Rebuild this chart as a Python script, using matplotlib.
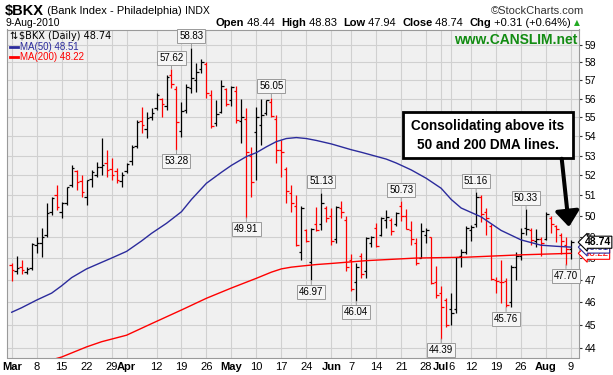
import matplotlib
matplotlib.use('Agg')
import matplotlib.pyplot as plt
from matplotlib.patches import Rectangle
from matplotlib.lines import Line2D
from matplotlib.ticker import FixedLocator, NullLocator, NullFormatter
import numpy as np
import pandas as pd

plt.rcParams['font.family'] = ['Liberation Sans', 'DejaVu Sans']

# ---- trading days Mar 1 .. Aug 9 2010 (market holidays removed)
holidays = ['2010-04-02', '2010-05-31', '2010-07-05']
dates = [d for d in pd.bdate_range('2010-03-01', '2010-08-09')
         if d.strftime('%Y-%m-%d') not in holidays]

# ---- daily OHLC
opens = [47.70, 47.40, 47.60, 47.35, 47.55, 48.60, 48.70, 49.10, 50.20, 51.00,
         50.20, 50.60, 51.50, 52.20, 51.70, 50.90, 51.80, 52.00, 52.40, 52.60,
         52.30, 52.20, 51.70, 52.20, 52.70, 53.50, 54.80, 54.40, 55.00, 55.50,
         56.00, 55.60, 57.30, 56.50, 54.30, 55.40, 56.60, 57.00, 57.60, 57.90,
         56.20, 54.70, 55.30, 56.50, 55.90, 56.40, 54.80, 54.90, 53.00, 54.20,
         54.60, 55.20, 55.80, 54.90, 53.30, 52.30, 51.10, 50.50, 48.30, 49.30,
         47.80, 49.60, 49.60, 50.40, 50.00, 48.90, 50.40, 49.80, 47.90, 46.90,
         48.10, 47.40, 48.70, 49.40, 49.10, 49.80, 49.80, 49.60, 50.50, 50.00,
         49.30, 48.70, 48.00, 49.10, 49.00, 46.90, 46.40, 46.10, 45.70, 45.70,
         48.10, 48.30, 49.30, 49.60, 50.90, 50.20, 49.50, 47.00, 46.90, 46.95,
         46.00, 47.60, 48.10, 49.40, 49.30, 48.80, 48.90, 48.90, 49.90, 49.50,
         49.10, 48.60, 48.44]
highs = [47.78, 48.10, 47.92, 47.60, 48.70, 49.00, 49.42, 50.63, 50.92, 51.50,
         50.68, 51.40, 52.50, 52.27, 52.00, 51.77, 52.27, 52.67, 53.90, 53.30,
         52.90, 52.37, 52.17, 52.62, 53.55, 54.85, 55.55, 55.30, 55.50, 56.30,
         56.05, 57.30, 57.62, 56.70, 55.80, 56.80, 58.83, 57.95, 58.20, 58.00,
         56.45, 55.90, 57.00, 56.60, 56.70, 56.70, 56.00, 55.50, 53.45, 55.55,
         56.00, 55.95, 56.05, 55.10, 53.80, 52.40, 51.50, 51.00, 50.50, 49.35,
         49.40, 50.45, 51.13, 50.50, 50.40, 50.50, 50.70, 50.00, 48.20, 47.75,
         48.25, 49.00, 49.05, 49.65, 49.95, 50.30, 49.90, 50.20, 50.73, 50.35,
         49.75, 48.95, 49.65, 49.40, 49.00, 47.65, 46.70, 46.20, 46.40, 48.05,
         48.40, 49.50, 49.55, 51.16, 51.00, 50.40, 49.60, 47.15, 47.90, 47.10,
         47.70, 48.30, 49.40, 50.33, 49.40, 49.35, 49.00, 50.20, 50.00, 49.55,
         49.20, 49.00, 48.83]
lows = [46.94, 47.27, 47.27, 47.27, 47.45, 48.24, 48.05, 49.00, 50.04, 50.28,
        49.90, 50.53, 51.40, 51.27, 50.92, 50.53, 51.40, 51.90, 52.00, 51.93,
        51.78, 51.63, 51.40, 52.10, 52.52, 53.40, 54.15, 53.90, 54.85, 55.40,
        55.00, 55.40, 56.60, 53.28, 53.95, 55.25, 56.30, 56.35, 57.40, 56.05,
        54.45, 54.55, 55.20, 55.60, 55.60, 54.70, 53.65, 49.91, 50.90, 51.75,
        53.55, 55.10, 55.00, 52.60, 51.90, 50.60, 50.20, 48.55, 47.90, 48.75,
        46.97, 49.25, 49.30, 49.70, 48.60, 48.70, 49.90, 47.40, 46.50, 46.04,
        47.10, 47.10, 48.50, 48.50, 49.05, 49.40, 49.10, 49.50, 49.75, 49.35,
        48.60, 47.70, 48.00, 48.70, 46.80, 46.20, 44.39, 44.90, 45.00, 45.50,
        47.60, 48.20, 48.80, 49.45, 49.70, 49.10, 47.00, 46.40, 45.95, 45.76,
        45.80, 47.00, 47.90, 49.10, 48.60, 48.50, 48.10, 48.85, 49.20, 48.75,
        48.20, 47.70, 47.94]
closes = [47.44, 47.54, 47.45, 47.50, 48.68, 48.72, 49.00, 50.14, 50.85, 50.43,
          50.63, 51.40, 52.37, 51.66, 51.17, 51.77, 52.17, 52.42, 52.52, 52.27,
          52.02, 51.78, 52.02, 52.57, 53.45, 54.75, 54.60, 54.95, 55.25, 56.20,
          55.70, 57.20, 56.80, 54.75, 55.35, 56.65, 57.15, 57.45, 58.00, 56.30,
          54.55, 55.15, 56.70, 55.70, 56.65, 54.85, 55.00, 53.20, 51.65, 55.00,
          55.10, 55.90, 55.05, 53.30, 53.20, 51.20, 50.60, 48.60, 50.40, 48.80,
          49.35, 49.30, 50.60, 49.90, 48.80, 50.45, 50.20, 47.60, 46.60, 47.60,
          47.25, 48.95, 49.00, 48.55, 49.90, 49.95, 49.25, 50.15, 49.97, 49.38,
          48.90, 47.75, 49.25, 49.30, 46.85, 46.30, 45.80, 45.00, 45.50, 48.05,
          48.30, 49.40, 49.45, 50.90, 50.10, 49.90, 47.05, 46.95, 46.90, 45.85,
          47.60, 48.10, 49.20, 49.35, 48.85, 48.90, 48.70, 50.10, 49.60, 49.35,
          48.80, 48.43, 48.74]

# ---- moving averages (bar number, value)
ma50_bar = [0, 2, 5, 8, 10, 12, 15, 18, 20, 23, 26, 28, 31, 34, 36, 39, 42, 44,
            47, 49, 51, 53, 55, 57, 59, 61, 64, 66, 68, 70, 72, 75, 77, 80, 83,
            86, 88, 90, 94, 98, 102, 106, 109, 112]
ma50_val = [45.55, 45.75, 46.09, 46.40, 46.73, 47.10, 47.50, 47.80, 48.00, 48.31,
            48.80, 49.16, 49.64, 50.20, 50.80, 51.60, 52.15, 52.50, 52.95, 53.15,
            53.45, 53.72, 53.88, 53.93, 53.88, 53.78, 53.60, 53.45, 53.30, 53.17,
            53.03, 52.82, 52.62, 52.27, 51.85, 51.35, 50.80, 50.38, 49.95, 49.30,
            48.85, 48.60, 48.55, 48.51]
ma200_bar = [8, 10, 15, 18, 23, 28, 34, 39, 44, 49, 52, 54, 56, 58, 61, 64, 71,
             81, 91, 102, 112]
ma200_val = [43.50, 43.62, 44.05, 44.27, 44.55, 45.05, 45.65, 46.17, 46.63, 47.07,
             47.35, 47.50, 47.58, 47.63, 47.70, 47.75, 47.88, 48.00, 48.04, 48.15,
             48.22]

hi_label_bars = [32, 36, 52, 62, 78, 93, 103]
lo_label_bars = [33, 47, 60, 69, 86, 99, 111]

tick_dates = ['2010-03-01', '2010-03-08', '2010-03-15', '2010-03-22', '2010-03-29',
              '2010-04-01', '2010-04-12', '2010-04-19', '2010-04-26', '2010-05-03',
              '2010-05-10', '2010-05-17', '2010-05-24', '2010-06-01', '2010-06-07',
              '2010-06-14', '2010-06-21', '2010-06-28', '2010-07-01', '2010-07-06',
              '2010-07-12', '2010-07-19', '2010-07-26', '2010-08-02', '2010-08-09']
tick_labels = ['Mar', '8', '15', '22', '29', 'Apr', '12', '19', '26', 'May', '10',
               '17', '24', 'Jun', '7', '14', '21', '28', 'Jul', '6', '12', '19',
               '26', 'Aug', '9']

y_ticks = list(range(44, 60))

W, H = 613, 375
RED = '#ff0000'
BLUE = '#2b2b9c'

fig = plt.figure(figsize=(W / 100, H / 100), dpi=100)
fig.patch.set_facecolor('white')
ax = fig.add_axes([6.7 / W, 1 - 357.5 / H, (579 - 6.7) / W, (357.5 - 29.5) / H])
ax.set_facecolor('#f0f0f0')

x = np.arange(len(dates))
prev = [opens[0]] + closes[:-1]
cols = [RED if c < p else 'black' for c, p in zip(closes, prev)]

ax.vlines(x, lows, highs, colors=cols, lw=0.9, zorder=3)
ax.hlines(opens, x - 0.5, x, colors=cols, lw=0.9, zorder=3)
ax.hlines(closes, x, x + 0.5, colors=cols, lw=0.9, zorder=3)

ax.plot(ma50_bar, ma50_val, color=BLUE, lw=1.0, zorder=4)
ax.plot(ma200_bar, ma200_val, color=RED, lw=1.0, zorder=4)

ax.set_yscale('log')
ax.set_ylim(43.60, 59.87)
ax.set_xlim(-1.0, 113.6)
ax.yaxis.set_major_locator(FixedLocator(y_ticks))
ax.yaxis.set_minor_locator(NullLocator())
ax.yaxis.set_minor_formatter(NullFormatter())
ax.set_yticklabels([str(v) for v in y_ticks])
ax.yaxis.tick_right()
ax.tick_params(axis='y', length=2, pad=2, labelsize=7.5, colors='#333333', labelcolor='black')

pos = {d.strftime('%Y-%m-%d'): i for i, d in enumerate(dates)}
ax.set_xticks([pos[d] for d in tick_dates])
ax.set_xticklabels(tick_labels)
ax.tick_params(axis='x', length=0, pad=3, labelsize=8)
for lab in ax.get_xticklabels():
    if lab.get_text().isalpha():
        lab.set_fontweight('bold')

ax.grid(True, color='#d0d0d0', lw=0.8, zorder=0)
ax.set_axisbelow(True)
for s in ax.spines.values():
    s.set_color('#9a9a9a')
    s.set_linewidth(0.8)

# high / low value tags
box = dict(boxstyle='square,pad=0.2', fc='#f6f6f6', ec='#9a9a9a', lw=0.7)
for i in hi_label_bars:
    ax.annotate(f'{highs[i]:.2f}', xy=(i, highs[i]), xytext=(0, 4.5),
                textcoords='offset points', ha='center', va='bottom', fontsize=7,
                bbox=box, zorder=6,
                arrowprops=dict(arrowstyle='-', color='#9a9a9a', lw=0.7,
                                shrinkA=0, shrinkB=0))
for i in lo_label_bars:
    ax.annotate(f'{lows[i]:.2f}', xy=(i, lows[i]), xytext=(0, -4.5),
                textcoords='offset points', ha='center', va='top', fontsize=7,
                bbox=box, zorder=6,
                arrowprops=dict(arrowstyle='-', color='#9a9a9a', lw=0.7,
                                shrinkA=0, shrinkB=0))

# last values on the right axis (stacked like the reference)
for val, col, fw, fs in [(ma200_val[-1], RED, 'normal', 7), (ma50_val[-1], BLUE, 'normal', 7),
                         (closes[-1], 'black', 'bold', 7.5)]:
    ax.annotate(f'{val:.2f}', xy=(1.0, val), xycoords=('axes fraction', 'data'),
                xytext=(4, 0), textcoords='offset points', ha='left', va='center',
                fontsize=fs, color=col, fontweight=fw, annotation_clip=False,
                bbox=dict(boxstyle='larrow,pad=0.1', fc='white', ec=col, lw=0.8),
                zorder=7)

# legend block inside the plot
ax.text(0.004, 0.980, '\u21c5', transform=ax.transAxes, fontsize=7, va='center',
        ha='left', family='DejaVu Sans')
ax.text(0.022, 0.980, f'\\$BKX (Daily) {closes[-1]:.2f}', transform=ax.transAxes,
        fontsize=7, va='center', ha='left', family='DejaVu Sans')
ax.add_line(Line2D([0.006, 0.020], [0.9476, 0.9476], transform=ax.transAxes,
                   color=BLUE, lw=2))
ax.text(0.023, 0.9476, f'MA(50) {ma50_val[-1]:.2f}', transform=ax.transAxes,
        fontsize=7, va='center', ha='left', color=BLUE)
ax.add_line(Line2D([0.006, 0.020], [0.917, 0.917], transform=ax.transAxes,
                   color=RED, lw=2))
ax.text(0.023, 0.917, f'MA(200) {ma200_val[-1]:.2f}', transform=ax.transAxes,
        fontsize=7, va='center', ha='left', color=RED)

ax.text(0.9965, 0.968, 'www.CANSLIM.net', transform=ax.transAxes, fontsize=10,
        fontweight='bold', color='#128c12', ha='right', va='center', zorder=6)

# annotation box and arrow
ax.add_patch(Rectangle((0.6926, 0.6082), 0.2969, 0.1403, transform=ax.transAxes,
                       fc='white', ec='black', lw=2, zorder=8))
ax.text(0.841, 0.705, 'Consolidating above its', transform=ax.transAxes,
        fontsize=9.8, fontweight='bold', ha='center', va='center', zorder=9)
ax.text(0.841, 0.648, '50 and 200 DMA lines.', transform=ax.transAxes,
        fontsize=9.8, fontweight='bold', ha='center', va='center', zorder=9)
ax.annotate('', xy=(0.9825, 0.398), xycoords='axes fraction',
            xytext=(0.9698, 0.606), textcoords='axes fraction',
            arrowprops=dict(arrowstyle='-|>,head_length=0.65,head_width=0.5',
                            lw=2.9, color='black', mutation_scale=14.4,
                            shrinkA=0, shrinkB=0), zorder=9)

# header rows
renderer = fig.canvas.get_renderer()


def row(pieces, x0, y, align='left', gap=0):
    xs = x0
    seq = pieces if align == 'left' else list(reversed(pieces))
    for txt, size, fw, col in seq:
        t = fig.text(xs / W, 1 - y / H, txt, fontsize=size, fontweight=fw,
                     color=col, ha=align, va='center')
        w = t.get_window_extent(renderer).width
        xs = xs + w + gap if align == 'left' else xs - w - gap


row([('\\$BKX', 10.5, 'bold', 'black'), (' (Bank Index - Philadelphia) ', 8, 'normal', 'black'),
     ('INDX', 7.5, 'normal', 'black')], 5, 11)
fig.text(584 / W, 1 - 11 / H, '\u00a9StockCharts.com', fontsize=8, color='#333333',
         ha='right', va='center')
fig.text(5 / W, 1 - 23 / H, '9-Aug-2010', fontsize=7.5, ha='left', va='center')
chg = closes[-1] - closes[-2]
row([('Open', 8, 'bold', 'black'), (f' {opens[-1]:.2f}  ', 8, 'normal', 'black'),
     ('High', 8, 'bold', 'black'), (f' {highs[-1]:.2f}  ', 8, 'normal', 'black'),
     ('Low', 8, 'bold', 'black'), (f' {lows[-1]:.2f}  ', 8, 'normal', 'black'),
     ('Close', 8, 'bold', 'black'), (f' {closes[-1]:.2f}  ', 8, 'normal', 'black'),
     ('Chg', 8, 'bold', 'black'),
     (f' {chg:+.2f} ({chg / closes[-2] * 100:+.2f}%)', 8, 'normal', 'black')],
    571, 23, align='right')
fig.text(577 / W, 1 - 23 / H, '\u25b2', fontsize=5.5, color='#22aa22', ha='center',
         va='center', family='DejaVu Sans')

fig.savefig('out.png', dpi=100)
